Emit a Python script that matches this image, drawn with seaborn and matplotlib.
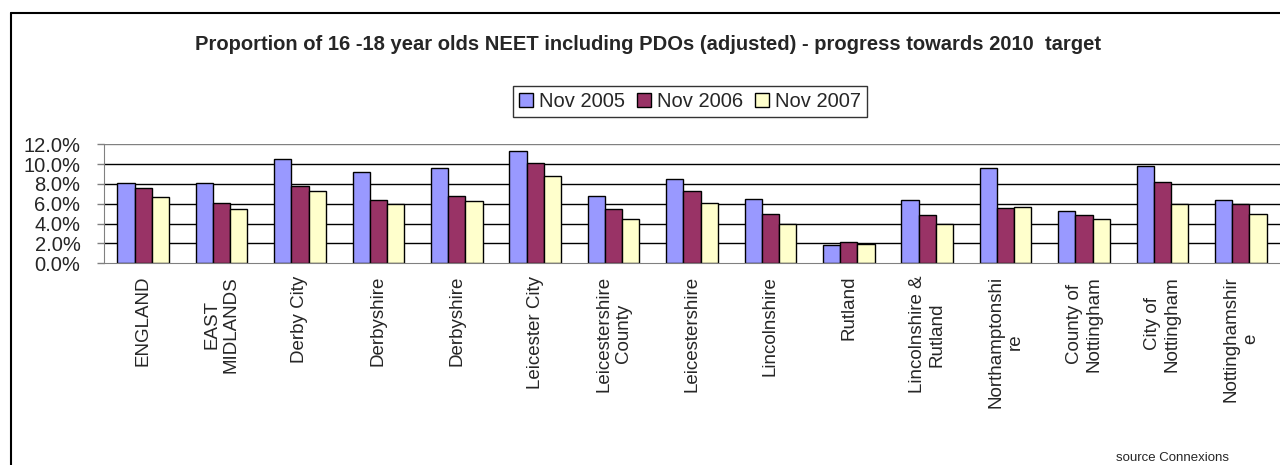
import numpy as np
import pandas as pd
import matplotlib
matplotlib.use("Agg")
import matplotlib.pyplot as plt
from matplotlib.lines import Line2D
import seaborn as sns

areas = ["ENGLAND", "EAST\nMIDLANDS", "Derby City", "Derbyshire", "Derbyshire",
         "Leicester City", "Leicestershire\nCounty", "Leicestershire", "Lincolnshire",
         "Rutland", "Lincolnshire &\nRutland", "Northamptonshi\nre", "County of\nNottingham",
         "City of\nNottingham", "Nottinghamshir\ne"]
periods = ["Nov 2005", "Nov 2006", "Nov 2007"]
nov_2005 = [8.1, 8.1, 10.5, 9.2, 9.6, 11.3, 6.8, 8.5, 6.5, 1.8, 6.4, 9.6, 5.3, 9.8, 6.4]
nov_2006 = [7.6, 6.1, 7.8, 6.4, 6.8, 10.1, 5.5, 7.3, 5.0, 2.1, 4.9, 5.6, 4.9, 8.2, 6.0]
nov_2007 = [6.7, 5.5, 7.3, 6.0, 6.3, 8.8, 4.5, 6.1, 4.0, 1.95, 4.0, 5.7, 4.5, 6.0, 5.0]
colors = ["#9999FF", "#993366", "#FFFFCC"]

# long format; use positions as keys since "Derbyshire" appears twice
rows = []
for series, vals in zip(periods, [nov_2005, nov_2006, nov_2007]):
    for i, v in enumerate(vals):
        rows.append({"pos": i, "period": series, "value": v / 100})
df = pd.DataFrame(rows)

sns.set_style("white")
plt.rcParams["font.family"] = ["Liberation Sans", "DejaVu Sans"]

fig = plt.figure(figsize=(12.8, 4.65), dpi=100)
ax = fig.add_axes([104 / 1280, 1 - 263.3 / 465, 1 - 104 / 1280, (263.3 - 144.3) / 465])

sns.barplot(data=df, x="pos", y="value", hue="period", palette=colors, saturation=1,
            edgecolor="black", linewidth=1, width=0.66, ax=ax, legend=True)

ax.set_xlim(-0.5, len(areas) - 0.5)
ax.set_ylim(0, 0.12)
ax.set_yticks(np.arange(0, 0.121, 0.02))
ax.set_yticklabels([f"{t * 100:.1f}%" for t in np.arange(0, 0.121, 0.02)], fontsize=14.5)
ax.set_axisbelow(True)
for t in np.arange(0.02, 0.101, 0.02):
    ax.axhline(t, color="black", linewidth=1, zorder=0)
ax.axhline(0.12, color="#808080", linewidth=1, zorder=0)

ax.set_xticks(np.arange(len(areas)))
ax.set_xticklabels(areas, rotation=90, fontsize=13.5, va="top", ha="center",
                   multialignment="center")
ax.tick_params(axis="x", length=0, pad=9)
ax.set_xticks(np.arange(-0.5, len(areas)), minor=True)
ax.tick_params(axis="x", which="minor", length=7, color="#808080", width=1, direction="out")
ax.tick_params(axis="y", length=5, color="#808080", width=1, direction="out", pad=12, left=True)
ax.set_xlabel("")
ax.set_ylabel("")
for s in ["top", "right"]:
    ax.spines[s].set_visible(False)
ax.spines["left"].set_color("#808080")
ax.spines["bottom"].set_color("#808080")

leg = ax.legend(loc="center", bbox_to_anchor=(690 / 1280, 1 - 101.5 / 465),
                bbox_transform=fig.transFigure, ncol=3, fontsize=14.5, frameon=True,
                fancybox=False, edgecolor="black", handlelength=0.7, handleheight=0.7,
                handletextpad=0.3, columnspacing=0.6, borderpad=0.3, borderaxespad=0)
leg.get_frame().set_linewidth(1)
for h in leg.legend_handles:
    h.set_edgecolor("black")

fig.text(648 / 1280, 1 - 44 / 465,
         "Proportion of 16 -18 year olds NEET including PDOs (adjusted) - progress towards 2010  target",
         ha="center", va="center", fontsize=14.5, fontweight="bold")
fig.text(1173 / 1280, 1 - 458 / 465, "source Connexions", ha="center", va="center", fontsize=9.5)

# chart-area frame (left and top edges visible)
fig.add_artist(Line2D([11 / 1280, 11 / 1280], [0, 1 - 13 / 465], color="black", linewidth=1.5,
                      transform=fig.transFigure))
fig.add_artist(Line2D([11 / 1280, 1], [1 - 13 / 465, 1 - 13 / 465], color="black", linewidth=1.5,
                      transform=fig.transFigure))

fig.savefig("out.png", dpi=100)
